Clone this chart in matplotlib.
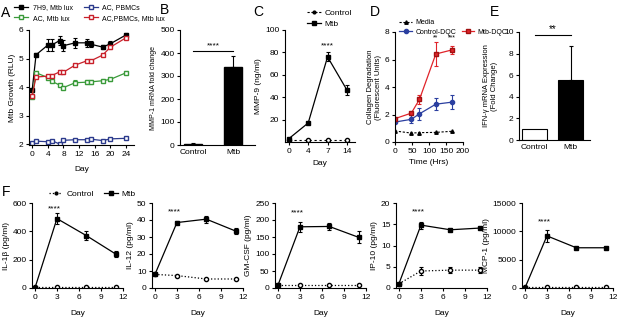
import matplotlib.pyplot as plt
from matplotlib.lines import Line2D

plt.rcParams['font.family'] = ['Liberation Sans', 'DejaVu Sans']
plt.rcParams['font.size'] = 6
plt.rcParams['axes.linewidth'] = 0.8
plt.rcParams['xtick.major.size'] = 2.5
plt.rcParams['ytick.major.size'] = 2.5
plt.rcParams['xtick.major.width'] = 0.8
plt.rcParams['ytick.major.width'] = 0.8
plt.rcParams['xtick.labelsize'] = 6
plt.rcParams['ytick.labelsize'] = 6
plt.rcParams['xtick.major.pad'] = 1.5
plt.rcParams['ytick.major.pad'] = 1.5

# A: Mtb growth
days_a = [0, 1, 4, 5, 7, 8, 11, 14, 15, 18, 20, 24]
h9_lux = [3.88, 5.13, 5.47, 5.47, 5.63, 5.45, 5.55, 5.55, 5.5, 5.4, 5.52, 5.83]
h9_err = [0.05, 0.05, 0.2, 0.2, 0.15, 0.2, 0.18, 0.15, 0.1, 0.08, 0.1, 0.05]
ac_lux = [3.65, 4.5, 4.33, 4.2, 4.07, 3.98, 4.15, 4.17, 4.18, 4.22, 4.27, 4.5]
ac_lux_err = [0.04, 0.05, 0.05, 0.04, 0.05, 0.04, 0.08, 0.08, 0.06, 0.05, 0.05, 0.06]
ac_pbmc = [2.05, 2.1, 2.08, 2.12, 2.0, 2.13, 2.15, 2.15, 2.17, 2.12, 2.18, 2.2]
ac_pbmc_lux = [3.7, 4.35, 4.38, 4.4, 4.53, 4.52, 4.77, 4.92, 4.92, 5.12, 5.4, 5.73]
ac_pbmc_lux_err = [0.04, 0.04, 0.04, 0.04, 0.05, 0.05, 0.05, 0.04, 0.04, 0.04, 0.05, 0.05]

# B: MMP-1 mRNA
groups = ['Control', 'Mtb']
mmp1 = [5, 340]
mmp1_err = [2, 45]

# C: MMP-9
days_c = ['0', '4', '7', '14']
mmp9_ctrl = [2, 2, 2, 2]
mmp9_mtb = [3, 17, 76, 46.5]
mmp9_err = [1, 1, 4, 4.5]

# D: collagen degradation
hrs = [0, 48, 72, 120, 168]
media = [0.8, 0.65, 0.68, 0.7, 0.78]
ctrl_dqc = [1.45, 1.65, 2.05, 2.75, 2.9]
ctrl_dqc_err = [0.1, 0.3, 0.45, 0.45, 0.5]
mtb_dqc = [1.7, 2.1, 3.1, 6.4, 6.7]
mtb_dqc_err = [0.1, 0.1, 0.35, 0.85, 0.3]

# E: IFN-gamma mRNA
ifng = [1, 5.6]
ifng_err = [0, 3.1]

# F: cytokines
days_f = [0, 3, 7, 11]
il1b_mtb = [0, 490, 370, 240]
il1b_mtb_err = [0, 40, 30, 20]
il1b_ctrl = [5, 5, 5, 5]
il12_mtb = [8, 38.5, 40.5, 33.5]
il12_mtb_err = [0.5, 1, 2, 2]
il12_ctrl = [8, 7.3, 5.3, 5.3]
gmcsf_mtb = [8, 180, 181, 149]
gmcsf_mtb_err = [1, 15, 10, 18]
gmcsf_ctrl = [8, 8, 8, 8]
ip10_mtb = [1, 14.8, 13.7, 14.1]
ip10_mtb_err = [0, 0.8, 0.2, 0.2]
ip10_ctrl = [1, 4, 4.2, 4.2]
ip10_ctrl_err = [0, 1, 0.7, 0.7]
mcp1_mtb = [0, 9200, 7100, 7100]
mcp1_mtb_err = [0, 1100, 100, 100]
mcp1_ctrl = [100, 100, 100, 100]

W, H = 617, 319
fig = plt.figure(figsize=(W / 100, H / 100), dpi=100)


def px_axes(l, t, r, b):
    ax = fig.add_axes([l / W, 1 - b / H, (r - l) / W, (b - t) / H])
    ax.spines['top'].set_visible(False)
    ax.spines['right'].set_visible(False)
    return ax


def letter(x, y, s):
    fig.text(x / W, 1 - y / H, s, fontsize=10, va='center', ha='left')


ebkw = dict(capsize=1.5, elinewidth=0.8, capthick=0.8)

# ---- A
col_h9, col_ac, col_pb, col_pbl = 'black', '#3a9a3a', '#2b3a8c', '#c8202a'
ax = px_axes(29, 30, 134, 145)
ax.errorbar(days_a, h9_lux, yerr=h9_err, color=col_h9, marker='s', ms=2.5,
            lw=0.9, **ebkw)
ax.errorbar(days_a, ac_lux, yerr=ac_lux_err, color=col_ac, marker='s', ms=2.5,
            mfc='white', lw=0.9, **ebkw)
ax.plot(days_a, ac_pbmc, color=col_pb, marker='s', ms=2.5, mfc='white', lw=0.9)
ax.errorbar(days_a, ac_pbmc_lux, yerr=ac_pbmc_lux_err, color=col_pbl, marker='s',
            ms=2.5, mfc='white', lw=0.9, **ebkw)
ax.set_xlim(-0.8, 26)
ax.set_ylim(1.965, 6)
ax.set_xticks(range(0, 25, 4))
ax.set_yticks([2, 3, 4, 5, 6])
ax.set_ylabel('Mtb Growth (RLU)', fontsize=6, labelpad=2)
ax.set_xlabel('Day', fontsize=6, labelpad=6)
ha = [Line2D([], [], color=col_h9, marker='s', ms=2.5, lw=0.9),
      Line2D([], [], color=col_ac, marker='s', ms=2.5, mfc='white', lw=0.9),
      Line2D([], [], color=col_pb, marker='s', ms=2.5, mfc='white', lw=0.9),
      Line2D([], [], color=col_pbl, marker='s', ms=2.5, mfc='white', lw=0.9)]
ax.legend(ha, ['7H9, Mtb lux', 'AC, Mtb lux', 'AC, PBMCs', 'AC,PBMCs, Mtb lux'],
          ncol=2, loc='upper left', bbox_to_anchor=(11 / W, 1 - 1 / H),
          bbox_transform=fig.transFigure, frameon=False, fontsize=5,
          handlelength=2.0, handletextpad=0.6, columnspacing=1.6,
          labelspacing=0.45, borderpad=0)
letter(1, 13, 'A')

# ---- B
ax = px_axes(180, 30, 255, 145)
ax.bar([0, 1], mmp1, width=0.45, color='black', edgecolor='black')
ax.errorbar([0, 1], mmp1, yerr=[[0, 0], mmp1_err], fmt='none', ecolor='black', **ebkw)
ax.set_xlim(-0.33, 1.55)
ax.set_ylim(0, 500)
ax.set_yticks(range(0, 501, 100))
ax.set_xticks([0, 1])
ax.set_xticklabels(groups)
ax.tick_params(axis='x', length=0, pad=3)
ax.plot([0, 1], [407, 407], color='black', lw=0.8)
ax.text(0.5, 415, '****', ha='center', va='bottom', fontsize=6)
ax.set_ylabel('MMP-1 mRNA fold change', fontsize=5, labelpad=2)
letter(160, 10, 'B')

# ---- C
ax = px_axes(285, 30, 355, 142)
xc = range(len(days_c))
ax.plot(xc, mmp9_ctrl, color='black', ls=(0, (2, 2.5)), lw=0.8, marker='o', ms=3,
        mfc='white')
ax.errorbar(xc, mmp9_mtb, yerr=mmp9_err, color='black', marker='s', ms=3, lw=0.9,
            **ebkw)
ax.set_xlim(-0.2, 3.42)
ax.set_ylim(0, 100)
ax.set_yticks([20, 40, 60, 80, 100])
ax.set_xticks(list(xc))
ax.set_xticklabels(days_c)
ax.text(2, 86, '****', ha='center', va='center', fontsize=6)
ax.set_ylabel('MMP-9 (ng/ml)', fontsize=6, labelpad=2)
ax.set_xlabel('Day', fontsize=6, labelpad=4)
hc = [Line2D([], [], color='black', ls=(0, (2, 1.5)), lw=0.8, marker='o', ms=2),
      Line2D([], [], color='black', lw=0.9, marker='s', ms=2.5)]
ax.legend(hc, ['Control', 'Mtb'], loc='upper left', bbox_to_anchor=(303 / W, 1 - 5 / H),
          bbox_transform=fig.transFigure, frameon=False, fontsize=6,
          handlelength=1.6, handletextpad=0.5, labelspacing=0.35, borderpad=0)
letter(253, 12, 'C')

# ---- D
ax = px_axes(395, 32, 463, 142)
ax.plot(hrs, media, color='black', ls=(0, (2, 1.5)), lw=0.8, marker='^', ms=2.5,
        label='Media')
ax.errorbar(hrs, ctrl_dqc, yerr=ctrl_dqc_err, color='#2b3fa0', marker='o', ms=3,
            mfc='#2b3fa0', lw=0.9, **ebkw)
ax.errorbar(hrs, mtb_dqc, yerr=mtb_dqc_err, color='#e0242a', marker='s', ms=3,
            mec='#a01010', lw=0.9, **ebkw)
ax.set_xlim(0, 200)
ax.set_ylim(0, 8)
ax.set_xticks(range(0, 201, 50))
ax.set_yticks(range(0, 9, 2))
ax.text(120, 7.55, '**', ha='center', va='center', fontsize=5)
ax.text(168, 7.55, '***', ha='center', va='center', fontsize=5)
ax.set_ylabel('Collagen Degradation\n(Fluorescent Units)', fontsize=5.5, labelpad=2)
ax.set_xlabel('Time (Hrs)', fontsize=6, labelpad=3)
hd = [Line2D([], [], color='black', ls=(0, (2, 1.5)), lw=0.8, marker='^', ms=2.5),
      Line2D([], [], color='#2b3fa0', marker='o', ms=3, lw=0.9),
      Line2D([], [], color='none'),
      Line2D([], [], color='#e0242a', marker='s', ms=3, mec='#a01010', lw=0.9)]
ax.legend(hd, ['Media', 'Control-DQC', '', 'Mtb-DQC'], ncol=2,
          loc='upper left', bbox_to_anchor=(396 / W, 1 - 16 / H),
          bbox_transform=fig.transFigure, frameon=False, fontsize=5,
          handlelength=1.8, handletextpad=0.5, columnspacing=0.8,
          labelspacing=0.3, borderpad=0)
letter(370, 12, 'D')

# ---- E
ax = px_axes(519, 32, 590, 140)
ax.bar([0, 1], ifng, width=0.69, color=['white', 'black'], edgecolor='black', lw=0.8)
ax.errorbar([1], [ifng[1]], yerr=[[0], [ifng_err[1]]], fmt='none', ecolor='black', **ebkw)
ax.set_xlim(-0.44, 1.53)
ax.set_ylim(0, 10)
ax.set_yticks(range(0, 11, 2))
ax.set_xticks([0, 1])
ax.set_xticklabels(groups)
ax.tick_params(axis='x', length=0, pad=3)
ax.plot([0, 1], [9.7, 9.7], color='black', lw=0.8)
ax.text(0.5, 9.85, '**', ha='center', va='bottom', fontsize=7)
ax.set_ylabel('IFN-\u03b3 mRNA Expression\n(Fold Change)', fontsize=5.5, labelpad=4)
letter(490, 12, 'E')

# ---- F
f_panels = [
    (32, il1b_ctrl, None, il1b_mtb, il1b_mtb_err, 600, 200, 'IL-1\u03b2 (pg/ml)'),
    (152, il12_ctrl, None, il12_mtb, il12_mtb_err, 50, 10, 'IL-12 (pg/ml)'),
    (275, gmcsf_ctrl, None, gmcsf_mtb, gmcsf_mtb_err, 250, 50, 'GM-CSF (pg/ml)'),
    (396, ip10_ctrl, ip10_ctrl_err, ip10_mtb, ip10_mtb_err, 20, 5, 'IP-10 (pg/ml)'),
    (522, mcp1_ctrl, None, mcp1_mtb, mcp1_mtb_err, 15000, 5000, 'MCP-1 (pg/ml)'),
]
star_y = [0.93, 0.9, 0.88, 0.89, 0.78]
for (left, ctrl, cerr, mtb, merr, ymax, step, lab), sy in zip(f_panels, star_y):
    ax = px_axes(left, 203, left + 91, 288)
    ax.errorbar(days_f, ctrl, yerr=cerr, color='black', ls=':', lw=0.9, marker='o',
                ms=3, mfc='white', **ebkw)
    ax.errorbar(days_f, mtb, yerr=merr, color='black', lw=0.9, marker='s', ms=3, **ebkw)
    ax.set_xlim(-0.4, 12)
    ax.set_ylim(0, ymax)
    ax.set_yticks(range(0, ymax + 1, step))
    ax.set_xticks(range(0, 13, 3))
    ax.text(2.7, sy * ymax, '****', ha='center', va='center', fontsize=6)
    ax.set_ylabel(lab, fontsize=6, labelpad=2)
    ax.set_xlabel('Day', fontsize=6, labelpad=7)

hf = [Line2D([], [], color='black', ls=':', lw=0.9, marker='o', ms=2),
      Line2D([], [], color='black', lw=0.9, marker='s', ms=2.5)]
fig.legend(hf, ['Control', 'Mtb'], ncol=2, loc='center left',
           bbox_to_anchor=(45 / W, 1 - 194 / H), frameon=False, fontsize=6,
           handlelength=1.6, handletextpad=0.5, columnspacing=1.2, borderpad=0)
letter(2, 192, 'F')

fig.savefig('out.png', dpi=100)
